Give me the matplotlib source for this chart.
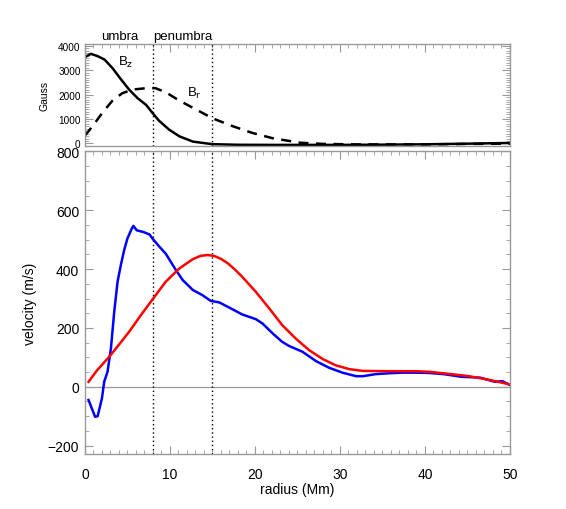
import numpy as np
import matplotlib
matplotlib.use("Agg")
import matplotlib.pyplot as plt
from matplotlib.ticker import MultipleLocator

plt.rcParams['font.family'] = ['Liberation Sans', 'DejaVu Sans']

# magnetic field profiles (Gauss)
bz_r = [0.0, 0.7, 1.5, 2.3, 3.25, 4.2, 5.2, 6.2, 7.2, 7.95, 8.7, 9.9, 11.1, 12.7, 15.0,
        18.0, 22.0, 30.0, 35.0, 40.0, 45.0, 50.0]
bz_val = [3536, 3672, 3577, 3440, 3085, 2646, 2208, 1853, 1580, 1251, 937, 567, 294, 75, -30,
          -55, -60, -60, -50, -35, -10, 20]

br_r = [0.0, 0.9, 2.1, 3.25, 4.4, 5.6, 7.2, 8.3, 9.5, 11.1, 13.1, 15.0, 17.4, 19.7, 22.1,
        25.3, 28.0, 32.0, 40.0, 45.0, 50.0]
br_val = [320, 705, 1280, 1757, 2059, 2208, 2264, 2264, 2100, 1757, 1388, 1031, 705, 430, 212,
          30, -20, -40, -40, -20, -10]

# velocity profiles (m/s)
blue_r = [0.43, 1.2, 1.5, 2.0, 2.27, 2.66, 3.06, 3.45, 3.84, 4.23, 4.62, 5.0, 5.5, 5.7, 6.1,
          6.9, 7.6, 7.95, 8.8, 9.5, 10.7, 11.5, 12.7, 13.8, 14.8, 15.8, 17.0, 18.5, 20.1,
          20.9, 22.1, 23.2, 24.0, 25.6, 27.2, 28.7, 30.3, 31.9, 32.7, 34.2, 35.8, 37.3,
          38.9, 40.5, 42.2, 44.3, 46.5, 48.2, 49.1, 50.0]
blue_v = [-45, -102, -100, -40, 17, 51, 130, 255, 357, 414, 465, 504, 537, 547, 532,
          526, 518, 504, 475, 453, 397, 363, 329, 312, 292, 287, 269, 246, 230,
          215, 181, 153, 139, 119, 87, 65, 48, 36, 36, 43, 46, 48,
          48, 47, 43, 34, 31, 17, 19, 6]

red_r = [0.43, 1.4, 2.86, 4.0, 5.2, 6.5, 7.9, 9.5, 11.1, 12.7, 13.6, 14.4, 15.2, 16.0, 16.8,
         17.6, 18.5, 20.1, 21.7, 23.2, 24.8, 26.4, 28.0, 29.5, 31.1, 32.7, 35.8, 38.9, 40.5,
         43.1, 45.2, 47.3, 50.0]
red_v = [17, 55, 102, 143, 187, 240, 295, 357, 402, 434, 445, 448, 445, 435, 420,
         400, 374, 323, 266, 210, 164, 124, 94, 73, 60, 54, 53, 53, 51,
         43, 36, 25, 8]

boundaries = [8, 15]

axis_gray = '#999999'

fig = plt.figure(figsize=(5.66, 5.10), dpi=100)
ax_top = fig.add_axes([0.150, 0.712, 0.751, 0.200])
ax_bot = fig.add_axes([0.150, 0.107, 0.751, 0.594])


def style_axes(ax):
    for s in ax.spines.values():
        s.set_color(axis_gray)
        s.set_linewidth(1.0)
    ax.tick_params(which='both', direction='in', color=axis_gray, top=True, right=True)
    ax.tick_params(which='major', length=6)
    ax.tick_params(which='minor', length=3)


# upper panel: field strength
style_axes(ax_top)
ax_top.plot(bz_r, bz_val, color='black', lw=1.8)
ax_top.plot(br_r, br_val, color='black', lw=1.8, linestyle=(0, (4, 3)))
for b in boundaries:
    ax_top.axvline(b, color='black', lw=1.0, linestyle=(0, (1, 2)))
ax_top.set_xlim(0, 50)
ax_top.set_ylim(-100, 4080)
ax_top.xaxis.set_major_locator(MultipleLocator(10))
ax_top.xaxis.set_minor_locator(MultipleLocator(1))
ax_top.yaxis.set_major_locator(MultipleLocator(1000))
ax_top.yaxis.set_minor_locator(MultipleLocator(100))
ax_top.tick_params(which='both', bottom=False, labelbottom=False)
ax_top.tick_params(axis='y', labelsize=7.2, pad=3)
ax_top.set_ylabel('Gauss', fontsize=7.5, labelpad=6)
ax_top.text(4.8, 3380, r'B$_\mathrm{z}$', fontsize=9.5, ha='center', va='center')
ax_top.text(12.9, 2070, r'B$_\mathrm{r}$', fontsize=9.5, ha='center', va='center')
ax_top.text(4.1, 4420, 'umbra', fontsize=9.5, ha='center', va='center')
ax_top.text(11.5, 4420, 'penumbra', fontsize=9.5, ha='center', va='center')

# lower panel: velocities
style_axes(ax_bot)
ax_bot.axhline(0, color=axis_gray, lw=0.9)
for b in boundaries:
    ax_bot.axvline(b, color='black', lw=1.0, linestyle=(0, (1, 2)))
ax_bot.plot(blue_r, blue_v, color='blue', lw=1.8)
ax_bot.plot(red_r, red_v, color='red', lw=1.8)
ax_bot.set_xlim(0, 50)
ax_bot.set_ylim(-230, 800)
ax_bot.xaxis.set_major_locator(MultipleLocator(10))
ax_bot.xaxis.set_minor_locator(MultipleLocator(1))
ax_bot.yaxis.set_major_locator(MultipleLocator(200))
ax_bot.yaxis.set_minor_locator(MultipleLocator(50))
ax_bot.tick_params(axis='both', labelsize=10)
ax_bot.tick_params(axis='x', pad=9)
ax_bot.tick_params(axis='y', pad=4)
ax_bot.set_xlabel('radius (Mm)', fontsize=10, labelpad=1)
ax_bot.set_ylabel('velocity (m/s)', fontsize=10, labelpad=8)

fig.savefig('out.png', dpi=100)
